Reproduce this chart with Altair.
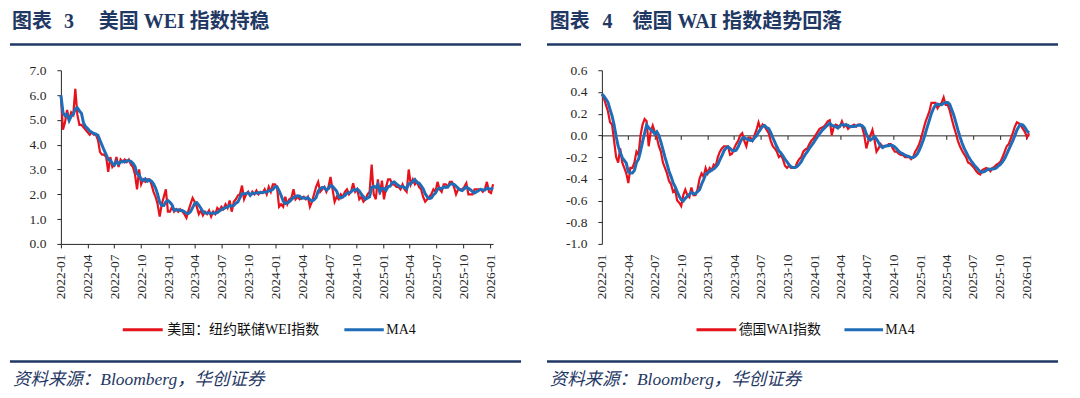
import altair as alt
import pandas as pd

# ---------------- data ----------------
first_week = "2022-01-01"

us_wei = [
    6.0, 4.6, 4.9, 5.4, 5.0, 5.3, 5.2, 6.25, 5.2, 4.8, 4.8, 4.7, 4.6,
    4.5, 4.4, 4.5, 4.4, 4.4, 4.2, 3.7, 3.6, 3.6, 3.5, 2.9, 3.5, 3.1,
    3.2, 3.5, 3.1, 3.4, 3.3, 3.4, 3.3, 3.4, 3.2, 3.1, 2.8, 2.2, 3.0,
    2.4, 2.6, 2.5, 2.6, 2.6, 2.4, 2.1, 1.9, 1.6, 1.1, 1.6, 1.9, 2.2,
    1.3, 1.3, 1.5, 1.3, 1.4, 1.3, 1.4, 1.3, 1.2, 1.05, 1.35, 1.6, 1.85,
    1.7, 1.5, 1.2, 1.35, 1.15, 1.3, 1.2, 1.35, 1.1, 1.3, 1.2, 1.45, 1.35,
    1.5, 1.4, 1.6, 1.45, 1.75, 1.3, 1.7, 1.8, 1.95, 2.0, 2.35, 1.8, 2.0,
    2.1, 1.95, 2.1, 2.0, 2.15, 2.0, 2.1, 2.05, 2.2, 2.0, 2.3, 2.1, 2.4,
    2.4, 2.3, 1.5, 1.6, 1.5, 1.9, 1.6, 1.8, 1.85, 2.2, 1.8, 1.9, 1.8,
    1.85, 1.9, 1.8, 1.9, 1.5, 1.7, 2.0, 2.3, 2.5, 2.1, 2.2, 2.3, 2.1,
    2.3, 2.7, 2.2, 1.7, 1.9, 1.8, 2.0, 1.9, 2.1, 2.2, 2.0, 2.1, 2.45,
    2.1, 2.2, 1.8, 1.9, 1.7, 1.8, 2.0, 2.1, 3.2, 2.0, 1.8, 2.6, 2.0,
    2.55, 1.8, 2.3, 2.6, 2.6, 2.4, 2.4, 2.3, 2.3, 2.2, 2.4, 2.2, 2.1,
    3.0, 2.4, 2.6, 2.4, 2.5, 2.3, 2.2, 1.9, 1.7, 1.8, 1.9, 2.0, 2.2,
    2.1, 2.5, 2.2, 2.1, 2.4, 2.4, 2.3, 2.5, 2.5, 2.3, 2.0, 2.2, 2.2,
    2.2, 2.3, 2.45, 2.0, 2.0, 2.0, 2.2, 2.2, 2.2, 2.2, 2.1, 2.2, 2.5,
    2.1, 2.05, 2.4,
]

de_wai = [
    0.38, 0.34, 0.28, 0.22, 0.12, 0.1, -0.05, -0.2, -0.25, -0.12, -0.25, -0.3, -0.35,
    -0.44, -0.3, -0.3, -0.25, -0.15, -0.18, 0.0, 0.1, 0.15, 0.13, -0.1, 0.03, 0.09,
    0.03, -0.02, -0.1, -0.15, -0.25, -0.3, -0.35, -0.42, -0.45, -0.52, -0.5, -0.6, -0.62,
    -0.65, -0.55, -0.5, -0.55, -0.57, -0.48, -0.55, -0.55, -0.5, -0.4, -0.35, -0.38, -0.3,
    -0.35, -0.3, -0.32, -0.27, -0.28, -0.2, -0.15, -0.12, -0.1, -0.1, -0.1, -0.18, -0.17,
    -0.12, -0.08, -0.05, 0.0, 0.02, -0.05, -0.1, -0.02, -0.02, -0.05, 0.0, 0.05, 0.12,
    0.06, 0.1, 0.08, 0.05, 0.02, -0.05, -0.1, -0.12, -0.15, -0.2, -0.18, -0.22, -0.28,
    -0.3, -0.28, -0.3, -0.3, -0.3, -0.25, -0.22, -0.2, -0.15, -0.13, -0.12, -0.08, -0.05,
    -0.03, 0.0, 0.03, 0.06, 0.07, 0.08, 0.1, 0.13, 0.14, 0.0, 0.08, 0.1, 0.09,
    0.08, 0.13, 0.08, 0.1, 0.06, 0.08, 0.09, 0.1, 0.08, 0.1, 0.1, 0.07, 0.0,
    -0.12, -0.05, 0.0, 0.05, -0.04, -0.15, -0.12, -0.08, -0.1, -0.1, -0.1, -0.08, -0.08,
    -0.12, -0.15, -0.15, -0.17, -0.18, -0.18, -0.2, -0.2, -0.2, -0.22, -0.2, -0.15, -0.12,
    -0.08, -0.02, 0.05, 0.12, 0.17, 0.22, 0.3, 0.3, 0.3, 0.25, 0.28, 0.3, 0.35,
    0.28, 0.28, 0.23, 0.15, 0.08, 0.02, -0.05, -0.1, -0.14, -0.17, -0.2, -0.25, -0.26,
    -0.28, -0.3, -0.33, -0.35, -0.36, -0.32, -0.31, -0.3, -0.31, -0.33, -0.3, -0.29, -0.27,
    -0.26, -0.24, -0.2, -0.15, -0.1, -0.08, -0.03, 0.02, 0.08, 0.12, 0.11, 0.09, 0.06,
    0.03, -0.02, 0.02,
]

ma_weeks = 4

quarter_ticks = [
    "2022-01", "2022-04", "2022-07", "2022-10",
    "2023-01", "2023-04", "2023-07", "2023-10",
    "2024-01", "2024-04", "2024-07", "2024-10",
    "2025-01", "2025-04", "2025-07", "2025-10",
    "2026-01",
]
us_y_ticks = [0.0, 1.0, 2.0, 3.0, 4.0, 5.0, 6.0, 7.0]
de_y_ticks = [-1.0, -0.8, -0.6, -0.4, -0.2, 0.0, 0.2, 0.4, 0.6]

us_title = ["图表", "3", "美国 WEI 指数持稳"]
de_title = ["图表", "4", "德国 WAI 指数趋势回落"]
us_legend = ["美国：纽约联储WEI指数", "MA4"]
de_legend = ["德国WAI指数", "MA4"]
source_text = "资料来源：Bloomberg，华创证券"

# ---------------- styling ----------------
RED = "#E6121C"
BLUE = "#1F6DB8"
NAVY = "#1F3864"
INK = "#262626"
SERIF = "Liberation Serif, Noto Sans CJK SC"
PH = 174
PW_US = 433
PW_DE = 428

dates = pd.date_range(first_week, periods=len(us_wei), freq="7D")
df_us = pd.DataFrame({"date": dates, "value": us_wei})
df_de = pd.DataFrame({"date": dates, "value": de_wai})


def dt(ts):
    return alt.DateTime(year=int(ts.year), month=int(ts.month), date=int(ts.day))


x_scale = alt.Scale(domain=[dt(dates[0]), dt(dates[-1])], nice=False)
tick_values = [alt.DateTime(year=int(s[:4]), month=int(s[5:7]), date=1) for s in quarter_ticks]

x_label_common = dict(values=tick_values, format="%Y-%m", labelAngle=270,
                      labelOverlap=False, labelFlush=False, title=None, grid=False,
                      orient="bottom")


def text_at(txt, x, y, size, color=INK, weight="normal", style="normal"):
    return alt.Chart().mark_text(
        text=txt, align="left", baseline="middle", font=SERIF, fontSize=size,
        fontWeight=weight, fontStyle=style, color=color,
    ).encode(x=alt.value(x), y=alt.value(y))


def hrule(x1, x2, y, color, width):
    return alt.Chart().mark_rule(color=color, strokeWidth=width).encode(
        x=alt.value(x1), x2=alt.value(x2), y=alt.value(y))


def pin(x1, x2, y1, y2):
    return alt.Chart().mark_rule(opacity=0).encode(
        x=alt.value(x1), x2=alt.value(x2), y=alt.value(y1), y2=alt.value(y2))


def decor(left, right, title, title_x, legend, legend_x, src_x, pin_l, pin_r):
    layers = [pin(pin_l, pin_r, -62, 319)]
    for txt, tx in zip(title, title_x):
        layers.append(text_at(txt, tx, -48, 20, NAVY, weight="bold"))
    layers.append(hrule(left, right, -25.7, NAVY, 2.5))
    # legend
    layers.append(hrule(legend_x[0], legend_x[1], 260, RED, 3))
    layers.append(text_at(legend[0], legend_x[2], 260, 14, "#111111"))
    layers.append(hrule(legend_x[3], legend_x[4], 260, BLUE, 3))
    layers.append(text_at(legend[1], legend_x[5], 260, 14, "#111111"))
    layers.append(hrule(left, right, 291.8, NAVY, 2.5))
    layers.append(text_at(source_text, src_x, 310, 17.5, NAVY, style="italic"))
    return layers


def ma_chart(df):
    return alt.Chart(df).transform_window(
        ma="mean(value)", frame=[-(ma_weeks - 1), 0], sort=[alt.SortField("date")]
    )


# ---------------- US panel ----------------
us_y_scale = alt.Scale(domain=[us_y_ticks[0], us_y_ticks[-1]], nice=False)
us_y_axis = alt.Axis(values=us_y_ticks, format=".1f", title=None, grid=False,
                     tickSize=4, labelPadding=11)
us_x_axis = alt.Axis(**x_label_common, tickSize=4, labelPadding=6)

us_red = alt.Chart(df_us).mark_line(color=RED, strokeWidth=2.2).encode(
    x=alt.X("date:T", scale=x_scale, axis=us_x_axis),
    y=alt.Y("value:Q", scale=us_y_scale, axis=us_y_axis),
)
us_blue = ma_chart(df_us).mark_line(color=BLUE, strokeWidth=3).encode(
    x=alt.X("date:T", scale=x_scale, axis=us_x_axis),
    y=alt.Y("ma:Q", scale=us_y_scale, axis=us_y_axis),
)

us_panel = alt.layer(
    *decor(-51, 461, us_title, [-49, 3, 38], us_legend,
           [62, 102, 106.5, 284, 323.5, 326], -48, -51, 481),
    us_red, us_blue,
).properties(width=PW_US, height=PH)

# ---------------- DE panel ----------------
de_y_scale = alt.Scale(domain=[de_y_ticks[0], de_y_ticks[-1]], nice=False)
de_y_axis = alt.Axis(values=de_y_ticks, title=None, grid=False, tickSize=4, labelPadding=11,
                     labelExpr="(datum.value < 0 ? '-' : '') + format(abs(datum.value), '.1f')")
zero_offset = -PH * (0 - de_y_ticks[0]) / (de_y_ticks[-1] - de_y_ticks[0])
de_x_labels = alt.Axis(**x_label_common, domain=False, ticks=False, tickSize=0, labelPadding=10)
de_x_zero = alt.Axis(values=tick_values, orient="bottom", labels=False, title=None, grid=False,
                     domain=True, ticks=True, tickSize=4, offset=zero_offset)

de_red = alt.Chart(df_de).mark_line(color=RED, strokeWidth=2.2).encode(
    x=alt.X("date:T", scale=x_scale, axis=de_x_labels),
    y=alt.Y("value:Q", scale=de_y_scale, axis=de_y_axis),
)
de_blue = ma_chart(df_de).mark_line(color=BLUE, strokeWidth=3).encode(
    x=alt.X("date:T", scale=x_scale, axis=de_x_zero),
    y=alt.Y("ma:Q", scale=de_y_scale, axis=de_y_axis),
)

de_panel = alt.layer(
    *decor(-55, 457, de_title, [-52.3, 0.6, 30.7], de_legend,
           [94.8, 134.6, 137, 243, 281.7, 284], -52.3, -61, 471),
    de_red, de_blue,
).resolve_axis(x="independent").properties(width=PW_DE, height=PH)

chart = alt.hconcat(us_panel, de_panel, spacing=0).properties(
    padding=0, background="white"
).configure_view(stroke=None).configure_axis(
    labelFont="Liberation Serif", labelFontSize=13.5, labelColor=INK,
    domainColor=INK, tickColor=INK, domainWidth=1, tickWidth=1,
)

chart.save("out.html", embed_options={"renderer": "svg", "actions": False})
